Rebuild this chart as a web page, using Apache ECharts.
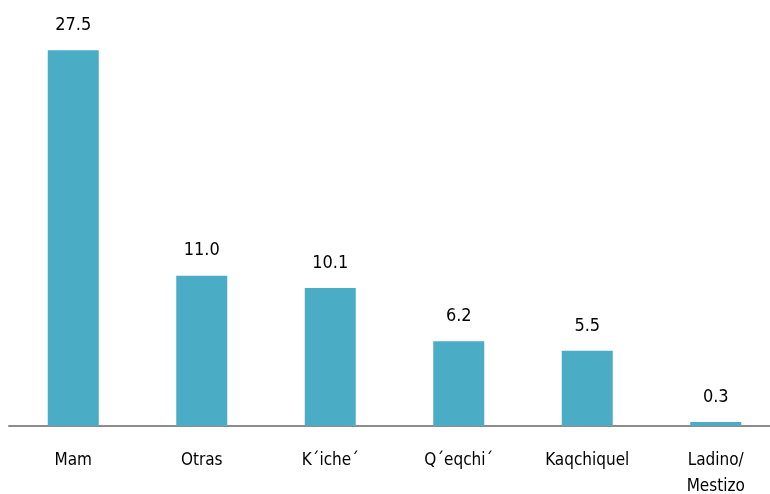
<!DOCTYPE html>
<html><head><meta charset="utf-8">
<script src="https://cdn.jsdelivr.net/npm/echarts@6/dist/echarts.min.js"></script>
<style>html,body{margin:0;padding:0;background:#fff}#c{width:770px;height:494px}</style>
</head><body><div id="c"></div>
<script>
const categories = ["Mam", "Otras", "K\u00b4iche\u00b4", "Q\u00b4eqchi\u00b4", "Kaqchiquel", "Ladino/\nMestizo"];
const values = [27.5, 11.0, 10.1, 6.2, 5.5, 0.3];
const FONT = "'DejaVu Sans Condensed', sans-serif";
const chart = echarts.init(document.getElementById('c'));
chart.setOption({
  animation: false,
  grid: {left: 9, right: -10, top: 16, bottom: 68, outerBoundsMode: 'none', containLabel: false},
  xAxis: {
    type: 'category', data: categories,
    axisLine: {lineStyle: {color: '#8c8c8c', width: 2}},
    axisTick: {show: false},
    axisLabel: {color: '#000', fontFamily: FONT, fontSize: 17, margin: 22, lineHeight: 26, interval: 0}
  },
  yAxis: {type: 'value', min: 0, max: 30, show: false, splitLine: {show: false}},
  series: [{
    type: 'bar', data: values, barWidth: 51,
    itemStyle: {color: '#4BACC6'},
    label: {show: true, position: 'top', distance: 16, color: '#000', fontFamily: FONT, fontSize: 18,
      formatter: p => p.value.toFixed(1)}
  }]
});
</script></body></html>
